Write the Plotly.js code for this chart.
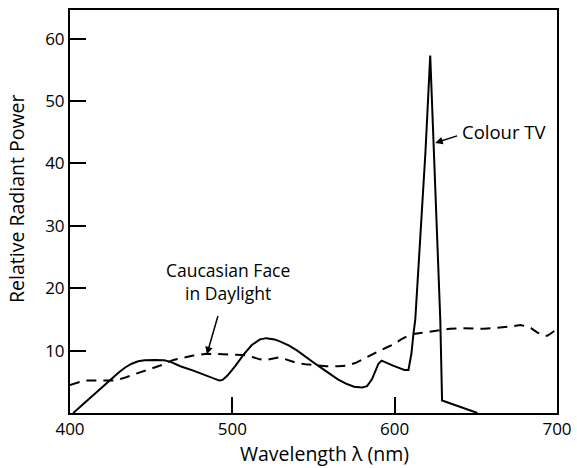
<!DOCTYPE html>
<html>
<head>
<meta charset="utf-8">
<script src="https://cdn.plot.ly/plotly-3.0.1.min.js"></script>
<style>html,body{margin:0;padding:0;background:#fff;}#chart{width:577px;height:468px;}</style>
</head>
<body>
<div id="chart"></div>
<script>
// Colour TV spectrum (solid)
const tvWavelength = [402,410,418,424,430,434,438,442,446,452,458,462,468,476,484,490,492,494,497,502,507,512,517,521,526,530,535,540,545,550,555,560,565,570,575,580,583,586,588,590,592,595,599,603,606,608.5,610.3,611.5,612.7,615.7,619,621.9,625,628.1,629.2,640,651];
const tvPower = [0,1.9,3.8,5.2,6.5,7.3,7.9,8.3,8.45,8.5,8.45,8.2,7.5,6.8,6.0,5.4,5.2,5.3,6.0,7.6,9.4,10.9,11.8,12.0,11.8,11.4,10.8,10.0,9.0,8.1,7.2,6.3,5.4,4.7,4.2,4.1,4.3,5.4,6.8,7.9,8.4,8.0,7.6,7.2,6.9,6.9,9.5,12.5,15,27.8,42,57.3,36.2,15,2.0,1.0,0];

// Caucasian face in daylight (dashed)
const faceWavelength = [400,405,409,415,422,428,433,438,444,450,456.5,463.7,470,476,484.3,492,500,507,512,517,520.5,524,528.4,533,538.7,545,551,558,565.4,570,575.7,580,585,590,595,599.3,604,609.6,615,621,628,634,642,650,655,661,667,672,677.4,681,684,688,691.7,694,696,698,700];
const facePower = [4.5,4.9,5.2,5.2,5.2,5.2,5.6,6.0,6.6,7.1,7.7,8.5,8.9,9.2,9.5,9.4,9.3,9.3,9.0,8.6,8.5,8.7,8.9,8.6,8.1,7.8,7.7,7.5,7.5,7.6,8.0,8.6,9.3,9.9,10.5,11.0,11.8,12.6,12.8,13.0,13.2,13.5,13.6,13.5,13.5,13.6,13.7,13.9,14.1,13.9,13.6,12.9,12.4,12.4,12.7,13.1,13.5];

const xTicks = [400,500,600,700];
const yTicks = [10,20,30,40,50,60];

const FONT = 'Open Sans, Lato, sans-serif';

const traces = [
  {x: tvWavelength, y: tvPower, type: 'scatter', mode: 'lines', line: {color: '#000', width: 2}, hoverinfo: 'skip'},
  {x: faceWavelength, y: facePower, type: 'scatter', mode: 'lines', line: {color: '#000', width: 2, dash: '10px,7px'}, hoverinfo: 'skip'}
];

const layout = {
  width: 577, height: 468,
  margin: {l: 70, r: 20, t: 10, b: 55},
  paper_bgcolor: '#fff', plot_bgcolor: '#fff',
  showlegend: false,
  font: {family: FONT, size: 17, color: '#000'},
  xaxis: {
    range: [400, 700], tickvals: xTicks, ticktext: xTicks.map(String),
    ticks: 'inside', ticklen: 16, tickwidth: 2, tickcolor: '#000',
    showline: true, linecolor: '#000', linewidth: 2, mirror: true,
    showgrid: false, zeroline: false,
    tickfont: {family: FONT, size: 17, color: '#000'}
  },
  yaxis: {
    range: [0, 64.6], tickvals: yTicks, ticktext: yTicks.map(String),
    ticks: 'inside', ticklen: 16, tickwidth: 2, tickcolor: '#000',
    showline: true, linecolor: '#000', linewidth: 2, mirror: true,
    showgrid: false, zeroline: false,
    tickfont: {family: FONT, size: 17, color: '#000'}
  },
  annotations: [
    {x: 0.5226, y: -0.0993, xref: 'paper', yref: 'paper', text: 'Wavelength λ (nm)',
     showarrow: false, xanchor: 'center', yanchor: 'middle', font: {family: FONT, size: 19.5, color: '#000'}},
    {x: -0.111, y: 0.531, xref: 'paper', yref: 'paper', text: 'Relative Radiant Power', textangle: -90,
     showarrow: false, xanchor: 'center', yanchor: 'middle', font: {family: FONT, size: 19.5, color: '#000'}},
    {x: 625, y: 43.3, xref: 'x', yref: 'y', ax: 639.4, ay: 44.5, axref: 'x', ayref: 'y',
     text: '', showarrow: true, arrowhead: 2, arrowsize: 1, arrowwidth: 1.5, arrowcolor: '#000'},
    {x: 640.2, y: 45.2, xref: 'x', yref: 'y', text: 'Colour TV', showarrow: false,
     xanchor: 'left', yanchor: 'middle', font: {family: FONT, size: 18.5, color: '#000'}},
    {x: 484.3, y: 9.4, xref: 'x', yref: 'y', ax: 491.4, ay: 15.8, axref: 'x', ayref: 'y',
     text: '', showarrow: true, arrowhead: 2, arrowsize: 1, arrowwidth: 1.5, arrowcolor: '#000'},
    {x: 497.5, y: 21.0, xref: 'x', yref: 'y', text: 'Caucasian Face<br>in Daylight', showarrow: false,
     xanchor: 'center', yanchor: 'middle', align: 'center', font: {family: FONT, size: 17.5, color: '#000'}}
  ]
};

Plotly.newPlot('chart', traces, layout, {staticPlot: true, displayModeBar: false});
</script>
</body>
</html>
